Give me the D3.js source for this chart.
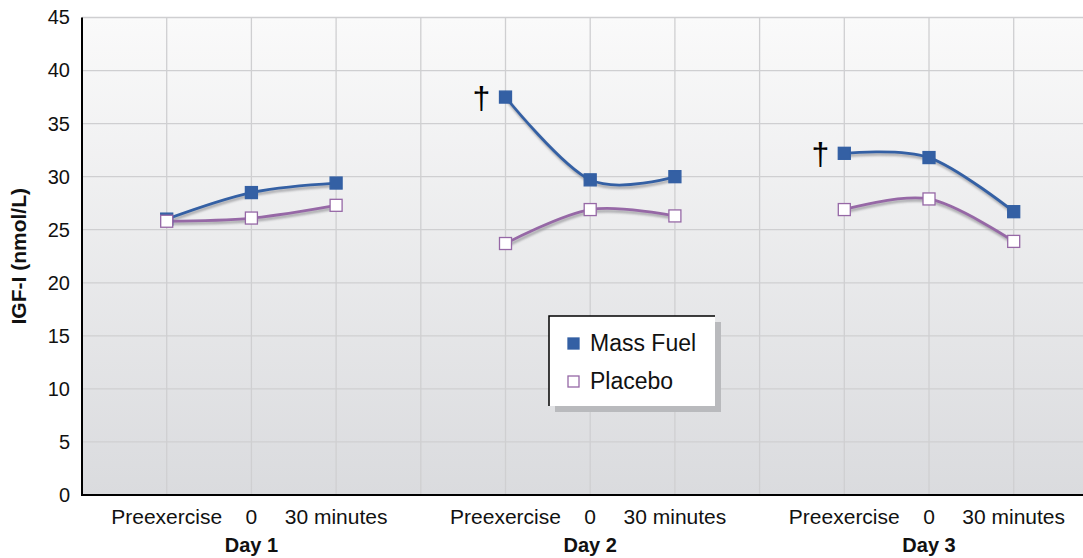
<!DOCTYPE html>
<html><head><meta charset="utf-8">
<script src="https://cdn.jsdelivr.net/npm/d3@7"></script>
<style>body{margin:0;background:#fff}svg{display:block;font-family:"Liberation Sans",Arial,sans-serif}</style>
</head><body><svg id="c" width="1083" height="558"></svg>
<script>
const timepoints = ["Preexercise", "0", "30 minutes"];
const days = ["Day 1", "Day 2", "Day 3"];
const massFuel = [[26.0, 28.5, 29.4], [37.5, 29.7, 30.0], [32.2, 31.8, 26.7]];
const placebo = [[25.8, 26.1, 27.3], [23.7, 26.9, 26.3], [26.9, 27.9, 23.9]];
const yTicks = [0, 5, 10, 15, 20, 25, 30, 35, 40, 45];
const significant = ["Day 2", "Day 3"];

const svg = d3.select("#c");
const L = 82, T = 17.5, B = 495, R = 1083;
const x = d3.scaleLinear().domain([0, 12]).range([L, L + 84.7 * 12]);
const y = d3.scaleLinear().domain([0, 45]).range([B, T]);
const idx = (d, t) => d * 4 + t + 1;

const defs = svg.append("defs");
const g = defs.append("linearGradient").attr("id", "bg").attr("x1", 0).attr("y1", 0).attr("x2", 0).attr("y2", 1);
g.append("stop").attr("offset", 0).attr("stop-color", "#fafafa");
g.append("stop").attr("offset", 1).attr("stop-color", "#dadbde");
const f = defs.append("filter").attr("id", "sh").attr("x", "-10%").attr("y", "-10%").attr("width", "130%").attr("height", "140%");
f.append("feGaussianBlur").attr("stdDeviation", 1);

svg.append("rect").attr("x", L).attr("y", T).attr("width", R - L).attr("height", B - T).attr("fill", "url(#bg)");

// grid
svg.append("g").selectAll("line").data(yTicks.filter(v => v > 0)).join("line")
  .attr("x1", L).attr("x2", R).attr("y1", d => y(d)).attr("y2", d => y(d))
  .attr("stroke", "#cfcfd1").attr("stroke-width", 1.3);
svg.append("g").selectAll("line").data(d3.range(1, 13)).join("line")
  .attr("x1", d => x(d)).attr("x2", d => x(d)).attr("y1", T).attr("y2", B)
  .attr("stroke", "#cfcfd1").attr("stroke-width", 1.3);

// axes
const ya = svg.append("g").attr("transform", `translate(${L},0)`).call(d3.axisLeft(y).tickValues(yTicks).tickSize(0).tickPadding(12));
ya.select(".domain").attr("stroke", "#000").attr("stroke-width", 2).attr("d", `M0,${T}V${B}`);
ya.selectAll("text").attr("font-size", 20).attr("fill", "#111").attr("font-family", "Liberation Sans, Arial, sans-serif");
svg.append("line").attr("x1", L).attr("x2", R).attr("y1", B + 2).attr("y2", B + 2).attr("stroke", "#999").attr("stroke-width", 2).attr("filter", "url(#sh)");
svg.append("line").attr("x1", L - 1).attr("x2", R).attr("y1", B).attr("y2", B).attr("stroke", "#000").attr("stroke-width", 2);

// x labels
const xl = [];
days.forEach((d, di) => timepoints.forEach((t, ti) => xl.push({ t, i: idx(di, ti) })));
svg.append("g").selectAll("text").data(xl).join("text")
  .attr("x", d => x(d.i)).attr("y", 524).attr("text-anchor", "middle").attr("font-size", 21).attr("fill", "#111").text(d => d.t);
svg.append("g").selectAll("text").data(days).join("text")
  .attr("x", (d, i) => x(idx(i, 1))).attr("y", 552).attr("text-anchor", "middle").attr("font-size", 20).attr("font-weight", "bold").attr("fill", "#111").text(d => d);

svg.append("text").attr("transform", `translate(26,${(T + B) / 2}) rotate(-90)`).attr("text-anchor", "middle")
  .attr("font-size", 21).attr("font-weight", "bold").attr("fill", "#111").text("IGF-I (nmol/L)");

// lines
const line = d3.line().x(d => x(d.i)).y(d => y(d.v)).curve(d3.curveCardinal.tension(0));
const series = [
  { name: "Mass Fuel", data: massFuel, color: "#3460a4", fill: "#3460a4" },
  { name: "Placebo", data: placebo, color: "#9668a6", fill: "#ffffff" }
];
series.forEach(s => {
  s.data.forEach((vals, di) => {
    const pts = vals.map((v, ti) => ({ i: idx(di, ti), v }));
    svg.append("path").attr("d", line(pts)).attr("fill", "none").attr("stroke", "#9a9a9e").attr("stroke-width", 3)
      .attr("transform", "translate(1,2.5)").attr("filter", "url(#sh)").attr("opacity", 0.8);
    svg.append("path").attr("d", line(pts)).attr("fill", "none").attr("stroke", s.color).attr("stroke-width", 2.8);
  });
});
series.forEach(s => {
  s.data.forEach((vals, di) => {
    const pts = vals.map((v, ti) => ({ i: idx(di, ti), v }));
    svg.append("g").selectAll("rect").data(pts).join("rect")
      .attr("x", d => x(d.i) - 6).attr("y", d => y(d.v) - 6).attr("width", 12).attr("height", 12)
      .attr("fill", s.fill).attr("stroke", s.color).attr("stroke-width", 1.3);
  });
});

// daggers
svg.append("g").selectAll("text").data(significant).join("text")
  .attr("x", d => x(idx(days.indexOf(d), 0)) - 24)
  .attr("y", d => y(massFuel[days.indexOf(d)][0]) + 12)
  .attr("text-anchor", "middle").attr("font-size", 32).attr("fill", "#000").text("\u2020");

// legend
const lg = svg.append("g").attr("transform", "translate(549,316)");
lg.append("rect").attr("x", 6).attr("y", 6).attr("width", 166).attr("height", 90).attr("fill", "#b9babd");
lg.append("rect").attr("x", 0).attr("y", 0).attr("width", 166).attr("height", 90).attr("fill", "#fff");
lg.append("path").attr("d", "M0,90V0H166").attr("fill", "none").attr("stroke", "#000").attr("stroke-width", 1.5);
series.forEach((s, i) => {
  lg.append("rect").attr("x", 19).attr("y", 22 + i * 38).attr("width", 11).attr("height", 11)
    .attr("fill", s.fill).attr("stroke", s.color).attr("stroke-width", 1.3);
  lg.append("text").attr("x", 41).attr("y", 35 + i * 38).attr("font-size", 23).attr("fill", "#111").text(s.name);
});
</script></body></html>
